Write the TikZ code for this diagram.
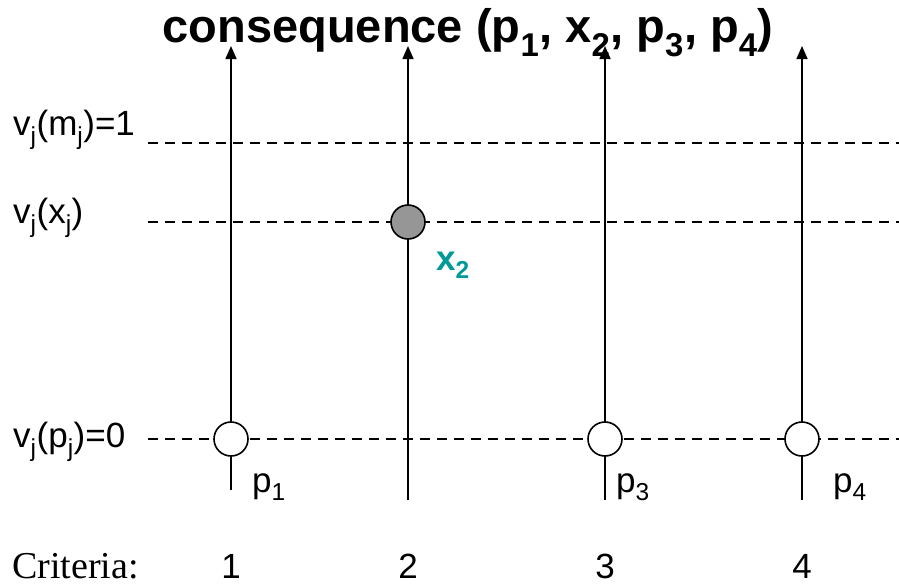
\documentclass[tikz,border=0pt]{standalone}
\usepackage{fontspec}
\setmainfont{Liberation Sans}
\newfontfamily\timesf{Liberation Serif}
\usetikzlibrary{arrows.meta}
\definecolor{tealx}{RGB}{0,153,153}
\definecolor{dotgray}{RGB}{150,150,150}
\begin{document}
\begin{tikzpicture}[x=1pt,y=-1pt,
  lab/.style={font=\fontsize{35}{42}\selectfont, inner sep=0pt, anchor=base west},
  num/.style={font=\fontsize{35}{42}\selectfont, inner sep=0pt, anchor=base},
  axis/.style={line width=1.6pt, -{Triangle[length=13pt,width=11pt]}},
  level/.style={line width=1.6pt, dash pattern=on 10pt off 7pt},
  opencirc/.style={circle, draw, line width=1.6pt, fill=white, minimum size=34pt, inner sep=0pt},
  fullcirc/.style={circle, draw, line width=1.6pt, fill=dotgray, minimum size=34pt, inner sep=0pt}]
\useasboundingbox (0,0) rectangle (899,587);
% title
\node[font=\fontsize{47}{54}\selectfont\bfseries, inner sep=0pt, anchor=base] (title) at (468,42)
  {consequence (p\textsubscript{1}, x\textsubscript{2}, p\textsubscript{3}, p\textsubscript{4})};
% level labels
\node[lab] (lm) at (13,135) {v\textsubscript{j}(m\textsubscript{j})=1};
\node[lab] (lx) at (13,223) {v\textsubscript{j}(x\textsubscript{j})};
\node[lab] (lp) at (13,447) {v\textsubscript{j}(p\textsubscript{j})=0};
% dashed levels
\coordinate (m0) at (148,143); \coordinate (m1) at (899,143);
\coordinate (x0) at (148,222); \coordinate (x1) at (899,222);
\coordinate (q0) at (148,439); \coordinate (q1) at (899,439);
\draw[level] (m0) -- (m1);
\draw[level] (x0) -- (x1);
\draw[level] (q0) -- (q1);
% axes
\coordinate (b1) at (231,490); \coordinate (t1) at (231,46);
\coordinate (b2) at (408,500); \coordinate (t2) at (408,46);
\coordinate (b3) at (605,500); \coordinate (t3) at (605,46);
\coordinate (b4) at (802,500); \coordinate (t4) at (802,46);
\draw[axis] (b1) -- (t1);
\draw[axis] (b2) -- (t2);
\draw[axis] (b3) -- (t3);
\draw[axis] (b4) -- (t4);
% points
\node[opencirc] (c1) at (231,439) {};
\node[fullcirc] (c2) at (408,222) {};
\node[opencirc] (c3) at (605,439) {};
\node[opencirc] (c4) at (802,439) {};
% point labels
\node[lab] (p1) at (252,492) {p\textsubscript{1}};
\node[lab, font=\fontsize{35}{42}\selectfont\bfseries, text=tealx] (x2) at (436,270) {x\textsubscript{2}};
\node[lab] (p3) at (616,492) {p\textsubscript{3}};
\node[lab] (p4) at (833,492) {p\textsubscript{4}};
% criteria row
\node[lab, font=\fontsize{38}{44}\selectfont\timesf] (crit) at (12,578) {Criteria:};
\node[num] (n1) at (231,578) {1};
\node[num] (n2) at (408,578) {2};
\node[num] (n3) at (605,578) {3};
\node[num] (n4) at (802,578) {4};
\end{tikzpicture}
\end{document}
